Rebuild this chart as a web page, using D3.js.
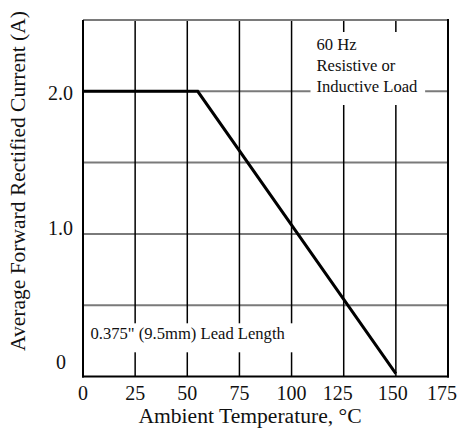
<!DOCTYPE html>
<html><head><meta charset="utf-8">
<script src="https://cdn.jsdelivr.net/npm/d3@7"></script>
<style>
html,body{margin:0;padding:0;background:#fff;}
svg{display:block;font-family:"Liberation Serif","Times New Roman",serif;}
</style></head>
<body><svg id="c" width="458" height="430"></svg>
<script>
// Data
const temperature = [0, 55, 150];          // °C
const current = [2.0, 2.0, 0.02];          // A
const xTicks = [0, 25, 50, 75, 100, 125, 150, 175];
const yGrid = [0, 0.5, 1.0, 1.5, 2.0, 2.5];
const yTickLabels = [[0, "0"], [1.0, "1.0"], [2.0, "2.0"]];
const noteTopRight = ["60 Hz", "Resistive or", "Inductive Load"];
const noteBottom = "0.375\" (9.5mm) Lead Length";
const xTitle = "Ambient Temperature, \u00B0C";
const yTitle = "Average Forward Rectified Current (A)";

const svg = d3.select("#c");
const L = 83, R = 448, T = 20, B = 376.5;
const x = d3.scaleLinear().domain([0, 175]).range([L, R]);
const y = d3.scaleLinear().domain([0, 2.5]).range([B, T]);

// horizontal gridlines (gray)
svg.append("g").selectAll("line").data(yGrid.filter(v => v > 0)).join("line")
  .attr("x1", L).attr("x2", R).attr("y1", d => y(d)).attr("y2", d => y(d))
  .attr("stroke", "#7a7a7a").attr("stroke-width", 2);
// vertical gridlines (black)
svg.append("g").selectAll("line").data(xTicks.filter(v => v > 0 && v < 175)).join("line")
  .attr("y1", T).attr("y2", B).attr("x1", d => x(d)).attr("x2", d => x(d))
  .attr("stroke", "#000").attr("stroke-width", 1.5);

// annotations with white background
function note(lines, tx, ty, lh, pad) {
  const g = svg.append("g");
  const rect = g.append("rect").attr("fill", "#fff");
  const t = g.append("text").attr("font-size", 16.6).attr("fill", "#111");
  lines.forEach((s, i) => t.append("tspan").attr("x", tx).attr("y", ty + i * lh).text(s));
  const bb = t.node().getBBox();
  rect.attr("x", bb.x - pad[3]).attr("y", bb.y - pad[0])
    .attr("width", bb.width + pad[1] + pad[3]).attr("height", bb.height + pad[0] + pad[2]);
  return g;
}
note(noteTopRight, 316.5, 50, 21, [3, 7, 9, 6]);
note([noteBottom], 90.5, 339.3, 0, [1, 8, 9, 8]);

// curve
svg.append("path").datum(temperature.map((t, i) => [t, current[i]]))
  .attr("fill", "none").attr("stroke", "#000").attr("stroke-width", 3)
  .attr("stroke-linejoin", "miter")
  .attr("d", d3.line().x(d => x(d[0])).y(d => y(d[1])));

// frame
svg.append("line").attr("x1", L).attr("x2", R).attr("y1", T).attr("y2", T)
  .attr("stroke", "#7a7a7a").attr("stroke-width", 2);
svg.append("line").attr("x1", L).attr("x2", L).attr("y1", T).attr("y2", B + 1)
  .attr("stroke", "#000").attr("stroke-width", 2);
svg.append("line").attr("x1", R).attr("x2", R).attr("y1", T - 1).attr("y2", B + 1)
  .attr("stroke", "#000").attr("stroke-width", 2);
svg.append("line").attr("x1", L - 1).attr("x2", R + 1).attr("y1", B).attr("y2", B)
  .attr("stroke", "#000").attr("stroke-width", 2);

// x tick labels
const xShift = {125: -6, 150: -3, 175: -6};
svg.append("g").selectAll("text").data(xTicks).join("text")
  .attr("x", d => x(d) + (xShift[d] || 0)).attr("y", 399.5)
  .attr("text-anchor", "middle").attr("font-size", 20).attr("fill", "#111")
  .text(d => d);
// y tick labels
const yShift = {0: -8, 1: 1.5, 2: 8.7};
svg.append("g").selectAll("text").data(yTickLabels).join("text")
  .attr("x", d => d[0] === 0 ? 66 : 73).attr("y", d => y(d[0]) + yShift[d[0]])
  .attr("text-anchor", "end").attr("font-size", 20).attr("fill", "#111")
  .text(d => d[1]);

// axis titles
svg.append("text").attr("x", 250).attr("y", 422.5).attr("text-anchor", "middle")
  .attr("font-size", 21.6).attr("fill", "#111").text(xTitle);
svg.append("text").attr("transform", "translate(25,181) rotate(-90)")
  .attr("text-anchor", "middle").attr("font-size", 21.5).attr("fill", "#111").text(yTitle);
</script></body></html>
